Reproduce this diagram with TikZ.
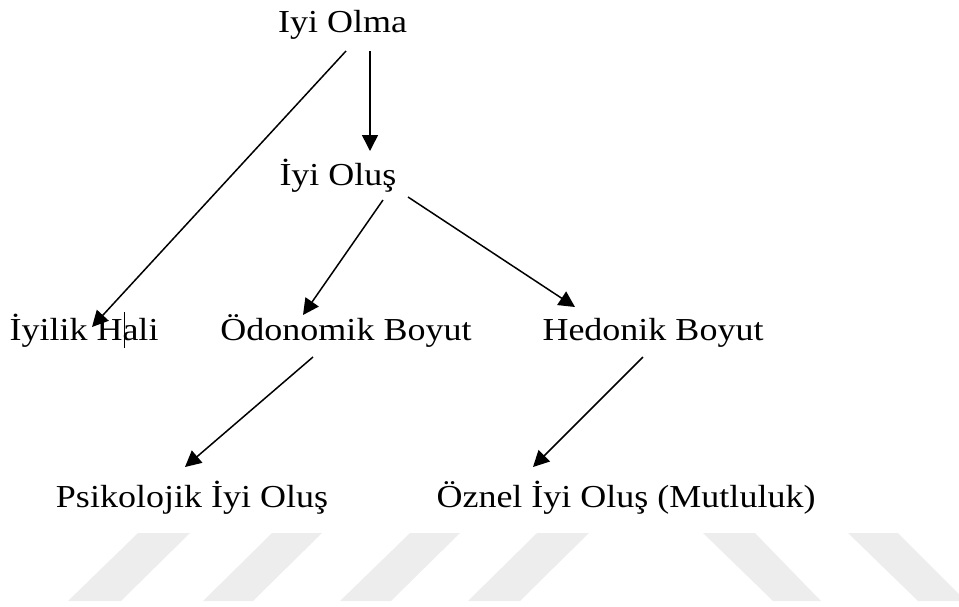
\documentclass[tikz,border=0pt]{standalone}
\usepackage{fontspec}
\setmainfont{Liberation Serif}
\usetikzlibrary{arrows.meta}
\definecolor{wm}{HTML}{EDEDED}
\newcommand{\Stretch}[1]{\scalebox{1.125}[1]{#1}}
\tikzset{
  lbl/.style={anchor=base, inner sep=0pt, font=\fontsize{32}{38}\selectfont},
  conn/.style={line width=1.5pt, -{Triangle[length=16pt,width=16pt]}},
  stripe/.style={fill=wm, draw=none}
}
\begin{document}
\begin{tikzpicture}[x=1pt,y=-1pt]
\useasboundingbox (0,0) rectangle (959,606);
% watermark stripes
\fill[stripe] (138,533) -- (190,533) -- (121,601) -- (68,601) -- cycle;
\fill[stripe] (272,533) -- (322,533) -- (253,601) -- (203,601) -- cycle;
\fill[stripe] (410,533) -- (460,533) -- (391,601) -- (340,601) -- cycle;
\fill[stripe] (537,533) -- (589,533) -- (520,601) -- (468,601) -- cycle;
\fill[stripe] (703,533) -- (755,533) -- (821,601) -- (773,601) -- cycle;
\fill[stripe] (848,533) -- (898,533) -- (959,594) -- (959,601) -- (918,601) -- cycle;
% nodes
\node[lbl] (A) at (342.5,32) {\Stretch{Iyi Olma}};
\node[lbl] (B) at (338,185) {\Stretch{İyi Oluş}};
\node[lbl] (C) at (84,340) {\Stretch{İyilik Hali}};
\node[lbl] (D) at (346,340) {\Stretch{Ödonomik Boyut}};
\node[lbl] (E) at (653,340) {\Stretch{Hedonik Boyut}};
\node[lbl] (F) at (192,507) {\Stretch{Psikolojik İyi Oluş}};
\node[lbl] (G) at (626,507) {\Stretch{Öznel İyi Oluş (Mutluluk)}};
% connectors
\draw[conn] ([shift={(3.5,19)}]A.base) -- ([shift={(8,-13)}]C.base);
\draw[conn] ([shift={(27.5,19)}]A.base) -- ([shift={(32,-34)}]B.base);
\draw[conn] ([shift={(45,15)}]B.base) -- ([shift={(-43,-25)}]D.base);
\draw[conn] ([shift={(70,12)}]B.base) -- ([shift={(-78,-33)}]E.base);
\draw[conn] ([shift={(-33,17)}]D.base) -- ([shift={(-7,-40)}]F.base);
\draw[conn] ([shift={(-10,17)}]E.base) -- ([shift={(-93,-40)}]G.base);
% text cursor mark
\draw[line width=1pt] ([shift={(40,-28)}]C.base) -- ([shift={(40,8)}]C.base);
\end{tikzpicture}
\end{document}
